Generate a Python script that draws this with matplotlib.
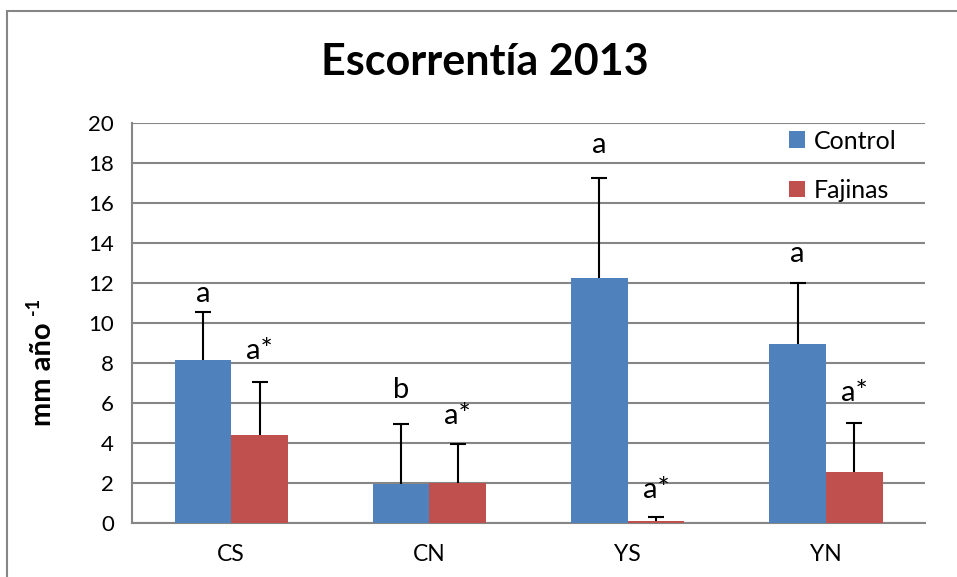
import numpy as np
import matplotlib.pyplot as plt
from matplotlib.patches import Rectangle

plt.rcParams['font.family'] = ['Lato', 'DejaVu Sans']

sitios = ["CS", "CN", "YS", "YN"]
control = [8.15, 1.95, 12.23, 8.95]
control_err = [2.42, 2.98, 5.0, 3.05]
fajinas = [4.4, 1.98, 0.12, 2.57]
fajinas_err = [2.63, 1.95, 0.2, 2.43]
letras_control = ["a", "b", "a", "a"]
letras_fajinas = ["a*", "a*", "a*", "a*"]

azul = "#4F81BD"
rojo = "#C0504D"
gris = "#868686"

fig = plt.figure(figsize=(9.57, 5.77), dpi=100)
ax = fig.add_axes([0.138, 0.0936, 0.8286, 0.6932])

# marco exterior del gráfico
fig.patches.append(Rectangle((7.5 / 957, -0.1), 1.2, 1 - 10.5 / 577 + 0.1,
                             transform=fig.transFigure, fill=False,
                             edgecolor=gris, linewidth=1.5))

x = np.arange(len(sitios))
w = 1 / 3.5
ax.bar(x - w / 2, control, w, color=azul, label="Control", zorder=3)
ax.bar(x + w / 2, fajinas, w, color=rojo, label="Fajinas", zorder=3)
ekw = dict(fmt="none", ecolor="black", elinewidth=1.5, capsize=6, capthick=1.5, zorder=4)
for xs, ys, es in [(x - w / 2, control, control_err), (x + w / 2, fajinas, fajinas_err)]:
    eb = ax.errorbar(xs, ys, yerr=[np.zeros(4), es], **ekw)
    # solo la barra de error hacia arriba
    eb[1][0].set_visible(False)

# separación (pt) entre el extremo de la barra de error y la letra
sep_control = [7, 19, 18, 15]
sep_fajinas = [17, 15, 13.5, 16]
for i in range(len(sitios)):
    ax.annotate(letras_control[i], (x[i] - w / 2, control[i] + control_err[i]),
                xytext=(0, sep_control[i]), textcoords="offset points", ha="center",
                va="baseline", fontsize=21)
    ax.annotate(letras_fajinas[i], (x[i] + w / 2, fajinas[i] + fajinas_err[i]),
                xytext=(0, sep_fajinas[i]), textcoords="offset points", ha="center",
                va="baseline", fontsize=21)

ax.set_xlim(-0.5, 3.5)
ax.set_ylim(0, 20)
ax.set_yticks(range(0, 21, 2))
ax.set_xticks(x)
ax.set_xticklabels(sitios)
ax.tick_params(axis="both", length=0, labelsize=16)
ax.tick_params(axis="y", pad=13)
ax.tick_params(axis="x", pad=15, labelsize=16.5)
ax.yaxis.grid(True, color=gris, linewidth=1.5, zorder=0)
ax.set_axisbelow(True)
for s in ["top", "right"]:
    ax.spines[s].set_visible(False)
for s in ["left", "bottom"]:
    ax.spines[s].set_color(gris)
    ax.spines[s].set_linewidth(1.5)

# etiqueta del eje y con superíndice
fig.text(43 / 957, 1 - 374 / 577, "mm año", rotation=90, ha="center", va="center",
         fontsize=21, fontweight="bold")
fig.text(34 / 957, 1 - 306 / 577, "-1", rotation=90, ha="center", va="center",
         fontsize=13, fontweight="bold")

fig.text(0.507, 1 - 75 / 577, "Escorrentía 2013", ha="center", va="baseline",
         fontsize=31, fontweight="bold")

ax.legend(loc="upper left", bbox_to_anchor=(0.8, 1.04), frameon=False,
          fontsize=18, handlelength=0.65, handleheight=0.65, handletextpad=0.35,
          labelspacing=1.05)

fig.savefig("out.png", dpi=100)
